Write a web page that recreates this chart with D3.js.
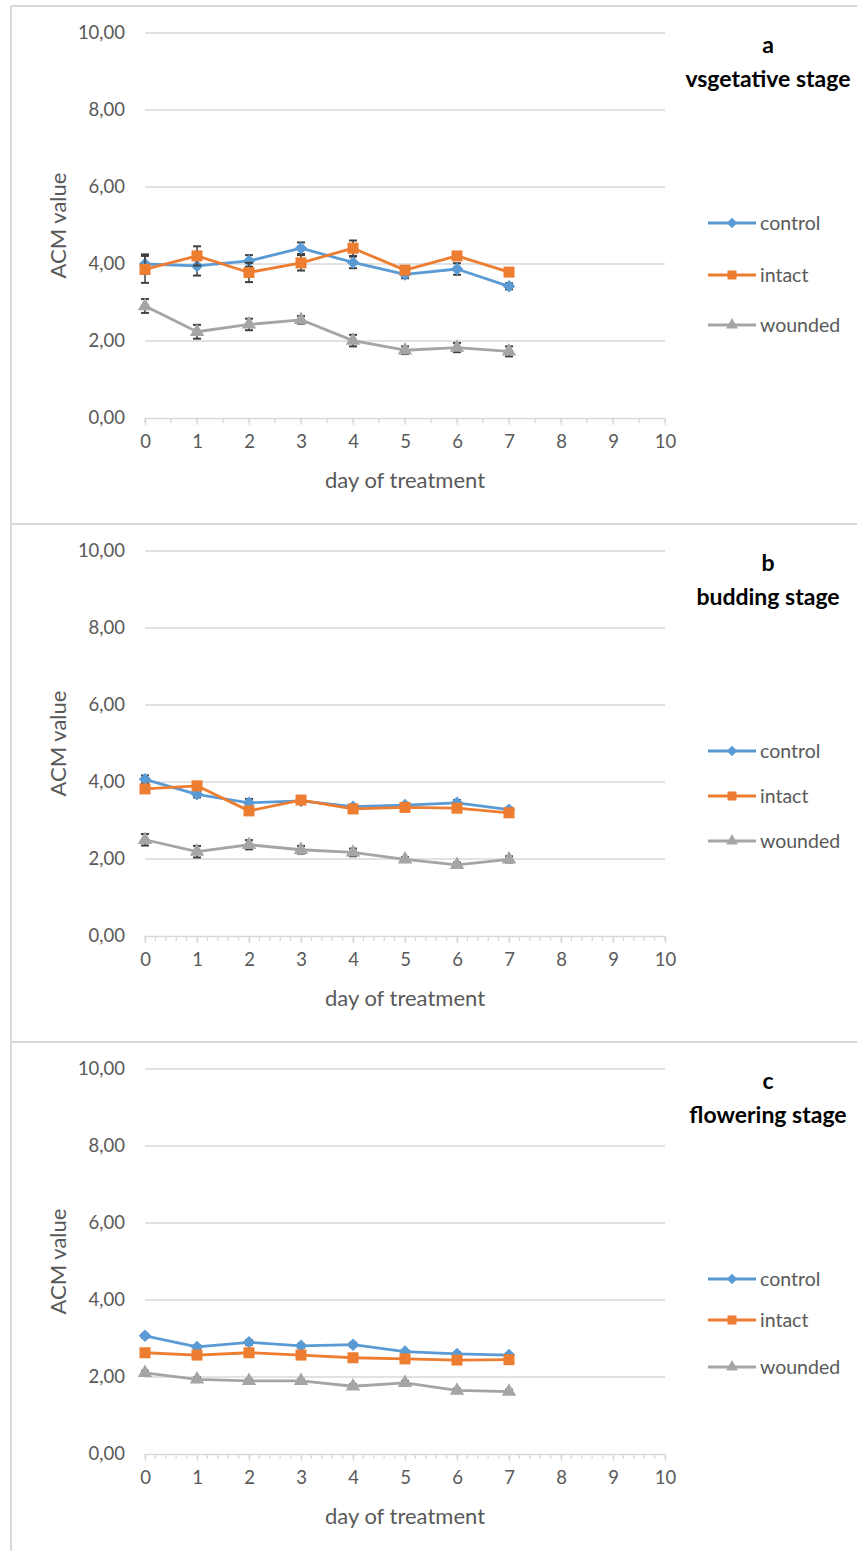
<!DOCTYPE html>
<html>
<head>
<meta charset="utf-8">
<script src="https://cdn.jsdelivr.net/npm/d3@7"></script>
<style>
  body { margin: 0; background: #fff; }
  text { font-family: Lato, "Open Sans", sans-serif; }
</style>
</head>
<body>
<div id="chart"></div>
<script>
// chart data
var days = [0, 1, 2, 3, 4, 5, 6, 7]
var seriesNames = ["control", "intact", "wounded"]
var yTicks = [0, 2, 4, 6, 8, 10]
var xTicks = [0, 1, 2, 3, 4, 5, 6, 7, 8, 9, 10]
var panelLetters = ["a", "b", "c"]
var panelTitles = ["vsgetative stage", "budding stage", "flowering stage"]

// a - vegetative stage
var controlA = [4.00, 3.95, 4.08, 4.41, 4.04, 3.73, 3.87, 3.42]
var intactA = [3.86, 4.21, 3.78, 4.03, 4.41, 3.84, 4.21, 3.79]
var woundedA = [2.91, 2.24, 2.43, 2.55, 2.01, 1.76, 1.83, 1.73]
var controlErrA = [0.25, 0.25, 0.15, 0.15, 0.15, 0.1, 0.15, 0.08]
var intactErrA = [0.35, 0.25, 0.25, 0.2, 0.2, 0.08, 0.1, 0.1]
var woundedErrA = [0.18, 0.18, 0.15, 0.1, 0.15, 0.1, 0.12, 0.13]

// b - budding stage
var controlB = [4.07, 3.68, 3.46, 3.51, 3.36, 3.40, 3.46, 3.28]
var intactB = [3.82, 3.90, 3.25, 3.53, 3.30, 3.34, 3.32, 3.20]
var woundedB = [2.50, 2.19, 2.37, 2.24, 2.17, 1.99, 1.85, 1.99]
var controlErrB = [0.1, 0.08, 0.1, 0.05, 0.05, 0.05, 0.07, 0.05]
var intactErrB = [0.1, 0.05, 0.1, 0.05, 0.05, 0.05, 0.05, 0.05]
var woundedErrB = [0.15, 0.15, 0.12, 0.1, 0.1, 0.06, 0.06, 0.08]

// c - flowering stage
var controlC = [3.07, 2.78, 2.90, 2.81, 2.84, 2.66, 2.60, 2.57]
var intactC = [2.63, 2.57, 2.63, 2.57, 2.50, 2.47, 2.44, 2.45]
var woundedC = [2.11, 1.94, 1.90, 1.90, 1.76, 1.85, 1.65, 1.62]
var controlErrC = [0.05, 0.05, 0.06, 0.05, 0.05, 0.04, 0.04, 0.04]
var intactErrC = [0.04, 0.04, 0.05, 0.04, 0.04, 0.04, 0.04, 0.04]
var woundedErrC = [0.05, 0.05, 0.04, 0.04, 0.05, 0.05, 0.05, 0.05]

var panels = [
  { letter: panelLetters[0], title: panelTitles[0], minor: 0.5,
    values: [controlA, intactA, woundedA], errs: [controlErrA, intactErrA, woundedErrA] },
  { letter: panelLetters[1], title: panelTitles[1], minor: 0.2,
    values: [controlB, intactB, woundedB], errs: [controlErrB, intactErrB, woundedErrB] },
  { letter: panelLetters[2], title: panelTitles[2], minor: 0.2,
    values: [controlC, intactC, woundedC], errs: [controlErrC, intactErrC, woundedErrC] }
]

var width = 857
var height = 1551
var panelH = 518
var colors = ["#5b9bd5", "#ed7d31", "#a5a5a5"]
var shapes = [d3.symbolDiamond2 || d3.symbolDiamond, d3.symbolSquare, d3.symbolTriangle]
var shapeSize = [100, 121, 90]   // markers on the plot
var legendSize = [70, 81, 62]    // markers in the legend
var gray = "#595959"
var gridColor = "#d9d9d9"

var svg = d3.select("#chart")
  .append("svg")
    .attr("width", width)
    .attr("height", height)

// x scale is shared by every panel; y is per panel (inside its group)
var x = d3.scaleLinear().domain([0, 10]).range([145, 665])

panels.forEach(function(p, i) {
  var top = 6 + i * panelH
  var g = svg.append("g").attr("transform", "translate(0," + top + ")")

  var y = d3.scaleLinear().domain([0, 10]).range([412, 27])

  // panel border
  g.append("line")
    .attr("x1", 11).attr("x2", width).attr("y1", 0).attr("y2", 0)
    .attr("stroke", gridColor).attr("stroke-width", 2)
  g.append("line")
    .attr("x1", 11).attr("x2", 11).attr("y1", 0).attr("y2", panelH)
    .attr("stroke", gridColor).attr("stroke-width", 2)

  // gridlines
  g.append("g")
    .selectAll("line")
    .data(yTicks.filter(function(d){ return d > 0 }))
    .enter()
    .append("line")
      .attr("x1", x(0)).attr("x2", x(10))
      .attr("y1", function(d){ return y(d) })
      .attr("y2", function(d){ return y(d) })
      .attr("stroke", gridColor).attr("stroke-width", 1.3)

  // y axis labels
  var yAxis = g.append("g")
    .attr("transform", "translate(" + x(0) + ",0)")
    .call(d3.axisLeft(y).tickValues(yTicks).tickSize(0).tickPadding(20)
      .tickFormat(function(d){ return d3.format(".2f")(d).replace(".", ",") }))
  yAxis.select(".domain").remove()
  yAxis.selectAll("text").attr("fill", gray).style("font-size", "18.5px")
    .style("font-family", "Lato, sans-serif")

  // minor ticks on x axis
  var minorTicks = d3.range(0, 10.0001, p.minor)
  g.append("g")
    .selectAll("line")
    .data(minorTicks)
    .enter()
    .append("line")
      .attr("x1", function(d){ return x(d) })
      .attr("x2", function(d){ return x(d) })
      .attr("y1", y(0)).attr("y2", y(0) + 5)
      .attr("stroke", gridColor).attr("stroke-width", 1.3)

  // x axis
  var xAxis = g.append("g")
    .attr("transform", "translate(0," + y(0) + ")")
    .call(d3.axisBottom(x).tickValues(xTicks).tickSize(7).tickPadding(10).tickSizeOuter(0)
      .tickFormat(d3.format("d")))
  xAxis.select(".domain").attr("stroke", gridColor).attr("stroke-width", 1.5)
  xAxis.selectAll(".tick line").attr("stroke", gridColor).attr("stroke-width", 1.3)
  xAxis.selectAll("text").attr("fill", gray).style("font-size", "18.5px")
    .style("font-family", "Lato, sans-serif")

  // axis titles
  g.append("text")
    .attr("x", (x(0) + x(10)) / 2)
    .attr("y", 482)
    .attr("text-anchor", "middle")
    .attr("fill", gray)
    .style("font-size", "22px")
    .text("day of treatment")
  g.append("text")
    .attr("transform", "translate(66," + (y(5)) + ") rotate(-90)")
    .attr("text-anchor", "middle")
    .attr("fill", gray)
    .style("font-size", "22px")
    .text("ACM value")

  // panel titles
  g.append("text")
    .attr("x", 768).attr("y", 47)
    .attr("text-anchor", "middle")
    .style("font-size", "23px").style("font-weight", "bold")
    .attr("fill", "#000")
    .text(p.letter)
  g.append("text")
    .attr("x", 768).attr("y", 81)
    .attr("text-anchor", "middle")
    .style("font-size", "23px").style("font-weight", "bold")
    .attr("fill", "#000")
    .text(p.title)

  var line = d3.line()
    .x(function(d){ return x(d[0]) })
    .y(function(d){ return y(d[1]) })

  p.values.forEach(function(vals, s) {
    var pts = days.map(function(d, k){ return [d, vals[k], p.errs[s][k]] })

    // error bars
    var eb = g.append("g")
    eb.selectAll("line.v").data(pts).enter().append("line")
      .attr("x1", function(d){ return x(d[0]) }).attr("x2", function(d){ return x(d[0]) })
      .attr("y1", function(d){ return y(d[1] - d[2]) }).attr("y2", function(d){ return y(d[1] + d[2]) })
      .attr("stroke", "#404040").attr("stroke-width", 1.5)
    ;[-1, 1].forEach(function(sign) {
      eb.selectAll("line.c" + sign).data(pts).enter().append("line")
        .attr("x1", function(d){ return x(d[0]) - 4 }).attr("x2", function(d){ return x(d[0]) + 4 })
        .attr("y1", function(d){ return y(d[1] + sign * d[2]) })
        .attr("y2", function(d){ return y(d[1] + sign * d[2]) })
        .attr("stroke", "#404040").attr("stroke-width", 2)
    })

    g.append("path")
      .datum(pts)
      .attr("d", line)
      .attr("fill", "none")
      .attr("stroke", colors[s])
      .attr("stroke-width", 2.8)
      .attr("stroke-linejoin", "round")

    g.append("g")
      .selectAll("path")
      .data(pts)
      .enter()
      .append("path")
        .attr("d", d3.symbol().type(shapes[s]).size(shapeSize[s]))
        .attr("transform", function(d){ return "translate(" + x(d[0]) + "," + y(d[1]) + ")" })
        .attr("fill", colors[s])
  })

  // legend
  var legY = i === 0 ? [217, 269, 319] : (i === 1 ? [227, 272, 317] : [237, 278, 325])
  var leg = g.append("g")
  seriesNames.forEach(function(name, s) {
    leg.append("line")
      .attr("x1", 708).attr("x2", 756)
      .attr("y1", legY[s]).attr("y2", legY[s])
      .attr("stroke", colors[s]).attr("stroke-width", 2.8)
    leg.append("path")
      .attr("d", d3.symbol().type(shapes[s]).size(legendSize[s]))
      .attr("transform", "translate(732," + legY[s] + ")")
      .attr("fill", colors[s])
    leg.append("text")
      .attr("x", 760).attr("y", legY[s])
      .attr("dy", "0.35em")
      .attr("fill", gray)
      .style("font-size", "19.5px")
      .text(name)
  })
})
</script>
</body>
</html>
